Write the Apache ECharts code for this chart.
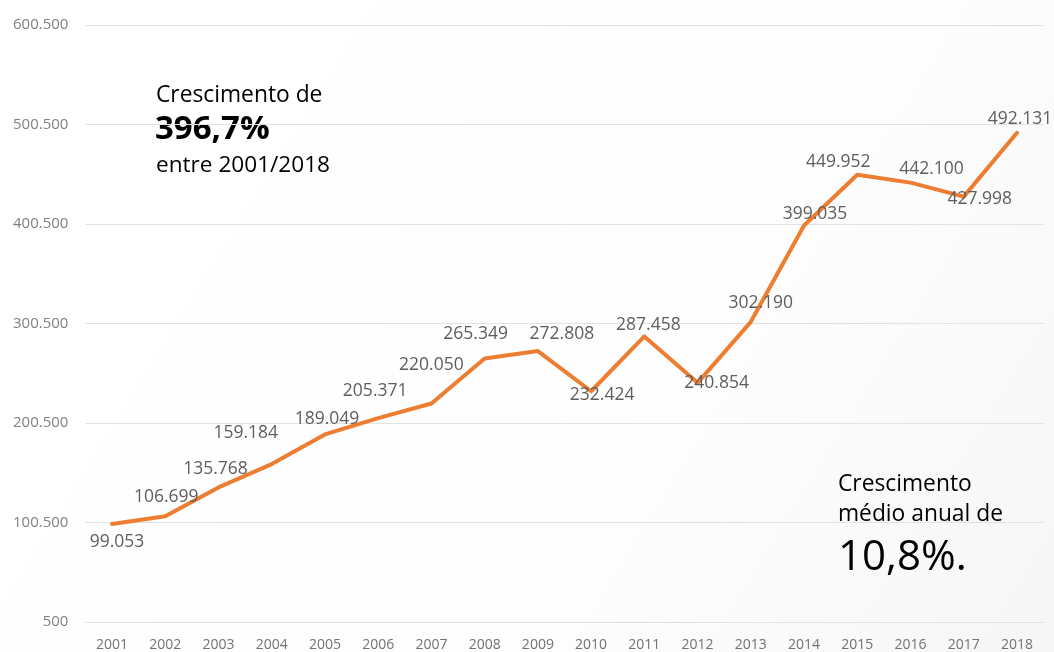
<!DOCTYPE html>
<html>
<head>
<meta charset="utf-8">
<script src="https://cdn.jsdelivr.net/npm/echarts@6/dist/echarts.min.js"></script>
<style>
  html, body { margin: 0; padding: 0; background: #ffffff; }
  #chart { width: 1054px; height: 652px; }
</style>
</head>
<body>
<div id="chart"></div>
<script>
// Anos e valores anuais
const anos = ['2001', '2002', '2003', '2004', '2005', '2006', '2007', '2008', '2009',
  '2010', '2011', '2012', '2013', '2014', '2015', '2016', '2017', '2018'];
const valores = [99053, 106699, 135768, 159184, 189049, 205371, 220050, 265349, 272808,
  232424, 287458, 240854, 302190, 399035, 449952, 442100, 427998, 492131];

// Eixo Y: de 500 a 600.500, passo de 100.000
const eixoMin = 500;
const eixoMax = 600500;
const eixoPasso = 100000;

// Deslocamento [dx, dy] de cada rótulo em relação ao seu ponto
const deslocRotulos = [[5, 18], [1, -19], [-3, -18], [-26, -31], [2, -15], [-3, -27],
  [0, -39], [-9, -24], [24, -17], [11, 4], [4, -11], [19, 0], [10, -19], [11, -11],
  [-19, -13], [21, -14], [16, 2], [3, -14]];

// Separador de milhar com ponto
const fmt = v => String(v).replace(/\B(?=(\d{3})+(?!\d))/g, '.');

const FONTE = '"Open Sans", "Noto Sans", sans-serif';

const chart = echarts.init(document.getElementById('chart'), null, { renderer: 'canvas' });

chart.setOption({
  animation: false,
  backgroundColor: {
    type: 'linear', x: 0, y: 0, x2: 1, y2: 1,
    colorStops: [
      { offset: 0, color: '#ffffff' },
      { offset: 0.6, color: '#fefefe' },
      { offset: 1, color: '#f6f6f6' }
    ]
  },
  grid: { left: 85.4, right: 10.4, top: 25, bottom: 29, containLabel: false },
  xAxis: {
    type: 'category',
    data: anos,
    boundaryGap: true,
    axisLine: { show: true, lineStyle: { color: '#e2e2e2', width: 1 } },
    axisTick: { show: false },
    axisLabel: { color: '#727272', fontSize: 14, fontFamily: FONTE, margin: 16 }
  },
  yAxis: {
    type: 'value',
    min: eixoMin,
    max: eixoMax,
    interval: eixoPasso,
    axisLine: { show: false },
    axisTick: { show: false },
    splitLine: { show: true, lineStyle: { color: '#e2e2e2', width: 1 } },
    axisLabel: {
      color: '#808080', fontSize: 15, fontFamily: FONTE, margin: 17,
      formatter: v => fmt(v)
    }
  },
  series: [{
    type: 'line',
    data: valores.map((v, i) => ({
      value: v,
      label: { position: deslocRotulos[i] }
    })),
    symbol: 'circle',
    symbolSize: 0.01,
    showSymbol: true,
    itemStyle: { color: 'rgba(237,125,49,0)' },
    lineStyle: { color: '#ED7D31', width: 4, join: 'round', cap: 'round' },
    label: {
      show: true,
      align: 'center',
      verticalAlign: 'middle',
      color: '#5e5e5e',
      fontSize: 17.5,
      fontFamily: FONTE,
      formatter: p => fmt(p.value)
    },
    labelLayout: { hideOverlap: false },
    emphasis: { disabled: true },
    z: 3
  }],
  graphic: [
    {
      type: 'text', left: 156, top: 84,
      style: { text: 'Crescimento de', fill: '#000000', font: '22.8px ' + FONTE }
    },
    {
      type: 'text', left: 155, top: 113,
      style: { text: '396,7%', fill: '#000000', font: 'bold 33px ' + FONTE }
    },
    {
      type: 'text', left: 156, top: 154,
      style: { text: 'entre 2001/2018', fill: '#000000', font: '22.6px ' + FONTE }
    },
    {
      type: 'text', left: 838, top: 473,
      style: { text: 'Crescimento', fill: '#000000', font: '22.8px ' + FONTE }
    },
    {
      type: 'text', left: 838, top: 503,
      style: { text: 'médio anual de', fill: '#000000', font: '22.8px ' + FONTE }
    },
    {
      type: 'text', left: 838, top: 537,
      style: { text: '10,8%.', fill: '#000000', font: '42px ' + FONTE }
    }
  ]
});
</script>
</body>
</html>
